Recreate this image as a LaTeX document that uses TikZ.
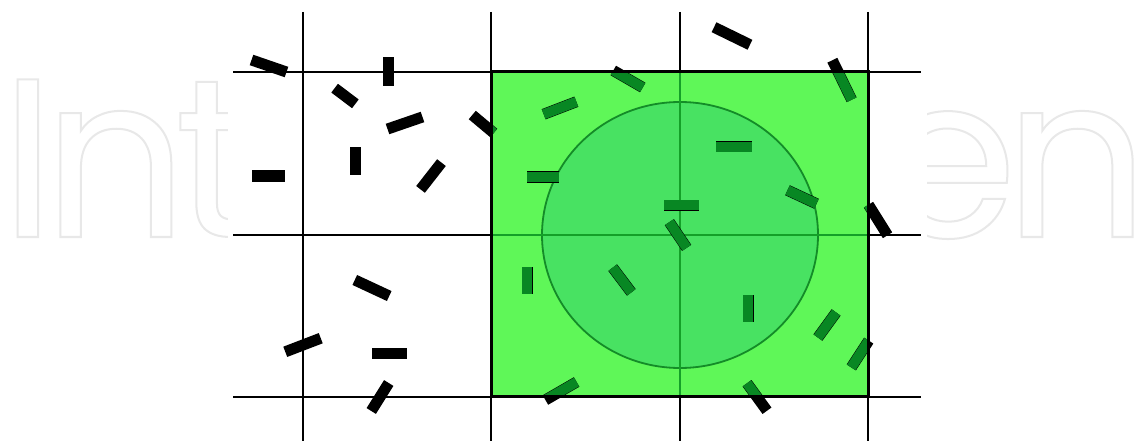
\documentclass[tikz,border=0pt]{standalone}
\usepackage{fontspec}
\newfontfamily\wmfont{Poppins}
\newcommand\wmk{\kern-13pt}
\newcommand\wmkk{\kern-22pt}
\definecolor{greenfill}{RGB}{95,247,88}
\definecolor{circfill}{RGB}{72,226,98}
\definecolor{circline}{RGB}{20,140,40}
\definecolor{innerline}{RGB}{20,160,40}
\definecolor{needlegreen}{RGB}{8,135,35}
\definecolor{wmgray}{RGB}{232,232,232}
\tikzset{
  gridline/.style={line width=1.5pt, black},
  innergrid/.style={line width=1.5pt, innerline},
}
\def\needles{269/66/-19/37, 388/72/90/29, 345/96/-37/26, 405/123/19/37,
  483/124/-40/28, 355/161/90/28, 268/176/0/33, 431/176/52/34,
  372/288/-25/38, 303/345/21/38, 389/353/0/35, 380/397/58/33,
  732/36/-26/40, 842/80/-64/44, 628/79/-30/34, 560/108/21/35,
  543/177/0/32, 734/147/0/36, 681/205/0/35, 802/197/-25/32,
  878/220/-58/36, 678/235/-56/31, 527/280/90/27, 622/280/-53/31,
  748/308/90/27, 827/325/54/31, 860/354/57/32, 561/391/30/36,
  757/397/-54/34}
\begin{document}
\begin{tikzpicture}[x=1pt,y=-1pt]
\useasboundingbox (0,0) rectangle (1138,441);
\fill[white] (0,0) rectangle (1138,441);
% watermark
\node[anchor=base west, inner sep=0, text=wmgray] (wm) at (0,237)
  {\wmfont\fontsize{226}{226}\selectfont\special{pdf:literal direct 1 Tr 2 w}I\wmk n\wmk t\wmkk e\wmkk c\wmkk h\wmkk O\wmkk p\wmkk e\wmk n\special{pdf:literal direct 0 Tr}};
% white panel of the figure
\fill[white] (228,0) rectangle (927,441);
% grid
\foreach \gx in {303,491,680,868} \draw[gridline] (\gx,12) -- (\gx,441);
\foreach \gy in {72,235,397} \draw[gridline] (233,\gy) -- (921,\gy);
% green square and circle
\fill[greenfill] (491,72) rectangle (868,396);
\filldraw[fill=circfill, draw=circline, line width=1.8pt] (680,235) ellipse [x radius=138, y radius=133];
\draw[innergrid] (680,72) -- (680,396);
\draw[innergrid] (491,235) -- (868,235);
% needles
\foreach \px/\py/\pa/\pl in \needles {
  \fill[black, shift={(\px,\py)}, rotate=\pa] (-\pl/2,-5.5) rectangle (\pl/2,5.5);
}
\begin{scope}
  \clip (491,72) rectangle (868,396);
  \foreach \px/\py/\pa/\pl in \needles {
    \fill[needlegreen, shift={(\px,\py)}, rotate=\pa] (-\pl/2,-5) rectangle (\pl/2,5);
  }
\end{scope}
\draw[line width=3pt, black] (491,72) rectangle (868,396);
\end{tikzpicture}
\end{document}
